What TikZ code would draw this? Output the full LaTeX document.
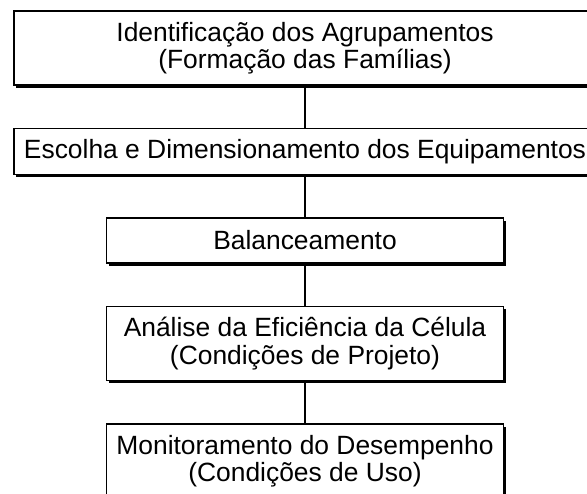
\documentclass[tikz,border=0pt]{standalone}
\usepackage{fontspec}
\setmainfont{Liberation Sans}
\usepackage{tikz}
\usetikzlibrary{shapes,arrows,positioning,shadows}

\begin{document}
\begin{tikzpicture}[-,x=1pt,y=1pt,node distance=42pt,line width=1.3pt,
  main node/.style={draw,fill=white,line width=1.5pt,align=center,inner sep=0pt,
    font=\fontsize{26.4}{27.5}\selectfont,
    drop shadow={shadow xshift=2pt,shadow yshift=-3pt,fill=black,opacity=1}},
  wide node/.style={main node,minimum width=582pt},
  narrow node/.style={main node,minimum width=397pt}]
  \clip (0,0) rectangle (587,-494);
  \useasboundingbox (0,0) rectangle (587,-494);
  \node[wide node,minimum height=74pt] (1) at (305,-48) {Identificação dos Agrupamentos\\(Formação das Famílias)};
  \node[wide node,minimum height=46pt,below=of 1] (2) {Escolha e Dimensionamento dos Equipamentos};
  \node[narrow node,minimum height=45pt,below=of 2] (3) {Balanceamento};
  \node[narrow node,minimum height=74pt,below=of 3] (4) {Análise da Eficiência da Célula\\(Condições de Projeto)};
  \node[narrow node,minimum height=74pt,below=of 4] (5) {Monitoramento do Desempenho\\(Condições de Uso)};
  \path
  (1) edge (2)
  (2) edge (3)
  (3) edge (4)
  (4) edge (5);
\end{tikzpicture}
\end{document}
